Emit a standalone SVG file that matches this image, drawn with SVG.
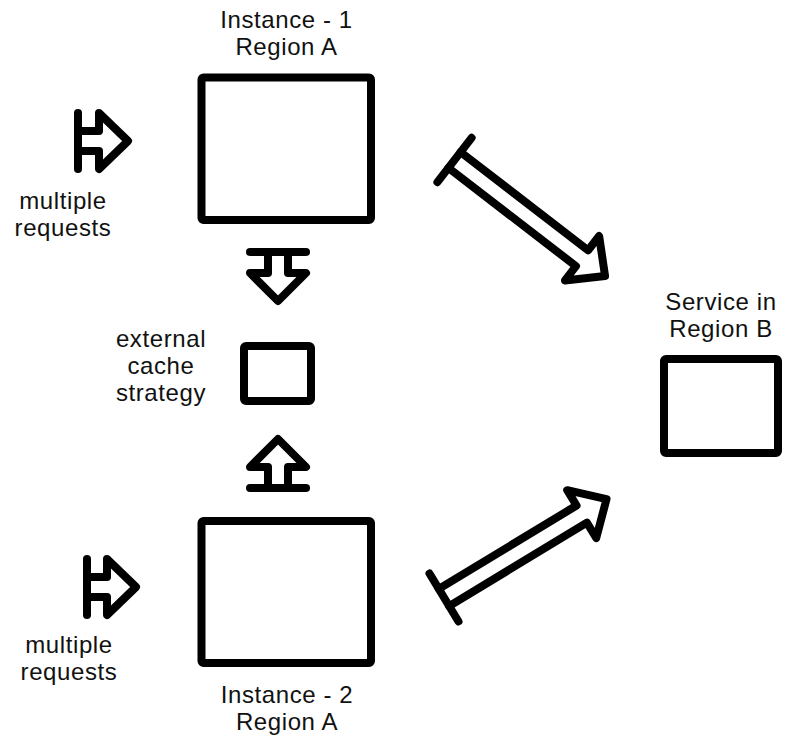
<svg xmlns="http://www.w3.org/2000/svg" width="785" height="742" viewBox="0 0 785 742">
<style>
.box{fill:#fff;stroke:#000;stroke-width:8;stroke-linejoin:round}
.arr{fill:#fff;stroke:#000;stroke-width:8;stroke-linejoin:round;stroke-linecap:round}
.bar{fill:none;stroke:#000;stroke-width:8;stroke-linecap:round}
text{font-family:"Liberation Sans",Arial,sans-serif;font-size:24px;letter-spacing:0.6px;fill:#111;text-anchor:middle}
</style>
<defs>
<g id="diag">
<path class="arr" d="M0,-10 L161,-10 L161,-28 L190,0 L161,28 L161,10 L0,10"/>
<path class="bar" d="M0,-28 L0,28"/>
</g>
</defs>
<rect width="785" height="742" fill="#fff"/>
<g id="instance1">
<rect class="box" x="201.5" y="77.5" width="169.5" height="142.5" rx="2"/>
<text x="286.5" y="27.5">Instance - 1</text>
<text x="286.5" y="54.5">Region A</text>
</g>
<g id="instance2">
<rect class="box" x="201.5" y="521" width="169.5" height="142" rx="2"/>
<text x="287" y="703">Instance - 2</text>
<text x="287" y="730">Region A</text>
</g>
<g id="cache">
<rect class="box" x="244" y="346" width="67" height="55" rx="2"/>
<text x="161" y="347">external</text>
<text x="161" y="374">cache</text>
<text x="161" y="401">strategy</text>
</g>
<g id="service">
<rect class="box" x="664" y="359" width="114" height="94" rx="2"/>
<text x="721" y="310">Service in</text>
<text x="721" y="337">Region B</text>
</g>
<g id="requests1">
<text x="63" y="208.5">multiple</text>
<text x="63" y="235.5">requests</text>
</g>
<g id="requests2">
<text x="69" y="653">multiple</text>
<text x="69" y="680">requests</text>
</g>
<g id="connectors">
<path class="arr" d="M78,131 L99,131 L99,113 L128,141 L99,169 L99,151 L78,151"/>
<path class="bar" d="M78,113 L78,169"/>
<path class="arr" d="M87,577 L107,577 L107,559 L136,587 L107,615 L107,597 L87,597"/>
<path class="bar" d="M87,559 L87,615"/>
<path class="arr" d="M268,252 L268,273 L250,273 L278,301 L306,273 L288,273 L288,252"/>
<path class="bar" d="M250,252 L306,252"/>
<path class="arr" d="M268,488 L268,467 L250,467 L278,439 L306,467 L288,467 L288,488"/>
<path class="bar" d="M250,488 L306,488"/>
<use href="#diag" transform="translate(454.5,160) rotate(37.6)"/>
<use href="#diag" transform="translate(444,597.5) rotate(-31.2)"/>
</g>
</svg>
